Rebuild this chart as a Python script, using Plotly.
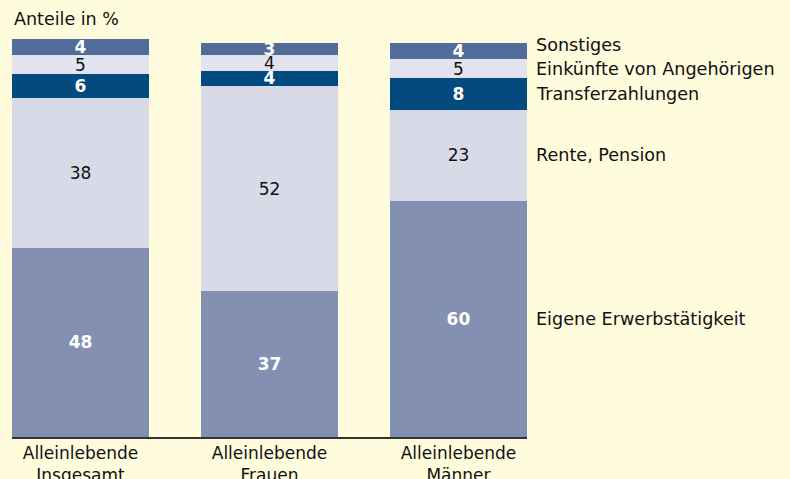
import plotly.graph_objects as go
import numpy as np

categories = ["Alleinlebende<br>Insgesamt", "Alleinlebende<br>Frauen", "Alleinlebende<br>Männer"]
series_names = ["Eigene Erwerbstätigkeit", "Rente, Pension", "Transferzahlungen",
                "Einkünfte von Angehörigen", "Sonstiges"]
eigene = [48, 37, 60]
rente = [38, 52, 23]
transfer = [6, 4, 8]
angehoerige = [5, 4, 5]
sonstiges = [4, 3, 4]

series_values = [eigene, rente, transfer, angehoerige, sonstiges]
colors = ["#8390b2", "#d8dbe7", "#034a7e", "#e2e3ee", "#516c98"]
text_colors = ["white", "#111111", "white", "#111111", "white"]
bold = [True, False, True, False, True]
label_shift = [0, 0, 0, 0, 6]

FONT = "DejaVu Sans"
fig = go.Figure()
x = list(range(len(categories)))
for name, vals, col, tcol, b in zip(series_names, series_values, colors, text_colors, bold):
    fig.add_trace(go.Bar(
        x=x, y=vals, name=name, marker=dict(color=col, line=dict(width=0)),
        text=[f"<b>{v}</b>" if b else str(v) for v in vals],
        textposition="inside", insidetextanchor="middle", textangle=0,
        insidetextfont=dict(color=tcol, size=17, family=FONT),
        hoverinfo="skip",
    ))

# right-hand labels aligned with last bar's segments
last = [s[-1] for s in series_values]
cum = np.cumsum(last)
for name, top, v, sh in zip(series_names, cum, last, label_shift):
    fig.add_annotation(x=1, xref="paper", xanchor="left", xshift=7,
                       y=top - v / 2, yref="y", yshift=sh, yanchor="middle",
                       text=name, showarrow=False,
                       font=dict(size=17.6, family=FONT, color="#111111"))

fig.add_annotation(x=0, xref="paper", xanchor="left", y=1, yref="paper",
                   yanchor="bottom", yshift=6, text="Anteile in %", showarrow=False,
                   font=dict(size=17.5, family=FONT, color="#111111"))

bg = "#fffbdd"
fig.update_layout(
    barmode="stack", bargap=0.275, showlegend=False,
    width=790, height=479,
    margin=dict(l=12, r=263, t=37, b=42),
    paper_bgcolor=bg, plot_bgcolor=bg,
    uniformtext=dict(minsize=17, mode="show"),
    font=dict(family=FONT, size=17, color="#111111"),
)
fig.update_xaxes(tickmode="array", tickvals=x, ticktext=categories,
                 range=[-0.3625, 2.3625], showline=True, linecolor="#333333",
                 linewidth=1.5, ticks="", showgrid=False, zeroline=False,
                 automargin=False,
                 tickfont=dict(size=17, family=FONT, color="#111111"))
fig.update_yaxes(range=[0, 101.5], visible=False, showgrid=False, zeroline=False,
                 automargin=False)

fig.write_html("out.html", config={"responsive": False, "displayModeBar": False},
               post_script="document.body.style.margin='0';document.body.style.overflow='hidden';")
